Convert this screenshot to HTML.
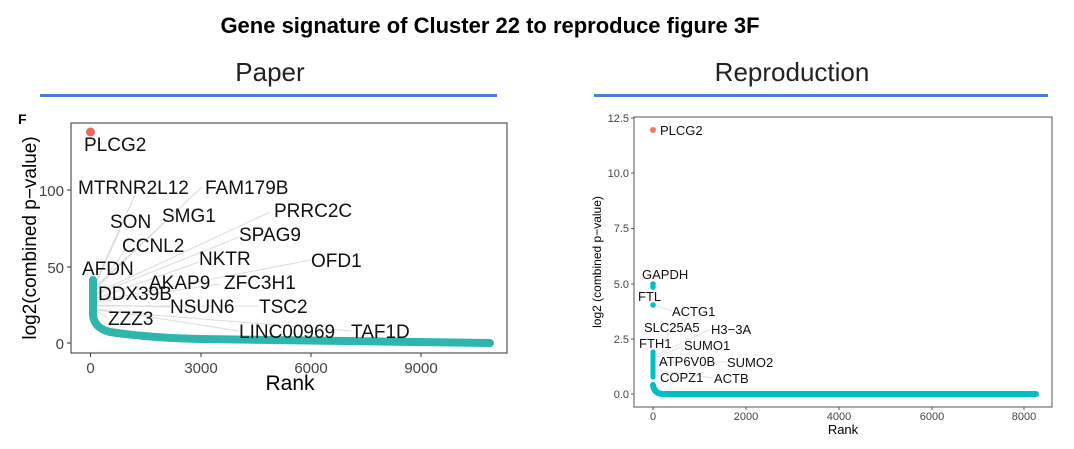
<!DOCTYPE html>
<html><head><meta charset="utf-8"><style>
html,body{margin:0;padding:0;background:#fff;width:1074px;height:449px;overflow:hidden}
svg{display:block;font-family:"Liberation Sans",Arial,sans-serif}
</style></head><body>
<svg width="1074" height="449" viewBox="0 0 1074 449">
<text x="490" y="33" font-size="22" font-weight="bold" text-anchor="middle" fill="#000">Gene signature of Cluster 22 to reproduce figure 3F</text>
<text x="270" y="81" font-size="26" text-anchor="middle" fill="#222">Paper</text>
<text x="792" y="81" font-size="26" text-anchor="middle" fill="#222">Reproduction</text>
<rect x="40" y="94" width="457" height="3" fill="#4a7fd4"/>
<rect x="594" y="94" width="454" height="3" fill="#4a7fd4"/>

<!-- LEFT PLOT -->
<text x="18" y="124" font-size="14" font-weight="bold">F</text>
<rect x="71" y="123" width="436" height="230" fill="#fff" stroke="#333" stroke-width="1"/>
<g stroke="#333"><line x1="67" y1="190" x2="71" y2="190"/><line x1="67" y1="267" x2="71" y2="267"/><line x1="67" y1="343" x2="71" y2="343"/>
<line x1="90.5" y1="353" x2="90.5" y2="357"/><line x1="201" y1="353" x2="201" y2="357"/><line x1="311" y1="353" x2="311" y2="357"/><line x1="421" y1="353" x2="421" y2="357"/></g>
<g font-size="15" fill="#444" text-anchor="end"><text x="64" y="196">100</text><text x="64" y="273">50</text><text x="64" y="349">0</text></g>
<g font-size="15" fill="#444" text-anchor="middle"><text x="90.5" y="373">0</text><text x="201" y="373">3000</text><text x="311" y="373">6000</text><text x="421" y="373">9000</text></g>
<text x="290" y="390" font-size="21" text-anchor="middle">Rank</text>
<text transform="translate(36,238) rotate(-90)" font-size="19" text-anchor="middle">log2(combined p−value)</text>
<g stroke="#dcdcd8" stroke-width="1" fill="none">
<line x1="92" y1="290" x2="135" y2="195"/><line x1="92" y1="290" x2="202" y2="187"/>
<line x1="92" y1="292" x2="120" y2="230"/><line x1="92" y1="292" x2="165" y2="222"/>
<line x1="92" y1="295" x2="270" y2="212"/><line x1="92" y1="296" x2="239" y2="237"/>
<line x1="92" y1="296" x2="125" y2="250"/><line x1="92" y1="300" x2="199" y2="262"/>
<line x1="92" y1="302" x2="311" y2="260"/><line x1="92" y1="303" x2="220" y2="284"/>
<line x1="92" y1="305" x2="170" y2="307"/><line x1="92" y1="306" x2="259" y2="306"/>
<line x1="92" y1="308" x2="108" y2="318"/><line x1="92" y1="308" x2="239" y2="331"/>
<line x1="92" y1="310" x2="351" y2="331"/>
</g>
<path d="M93 280 L93 315 Q94 328 110 332 Q150 338 200 339 L490 343" stroke="#2fb6ac" stroke-width="8" fill="none" stroke-linecap="round" stroke-linejoin="round"/>
<circle cx="90.5" cy="132" r="4.5" fill="#e8685e"/>
<g font-size="19" fill="#111">
<text x="84" y="151">PLCG2</text>
<text x="78" y="194">MTRNR2L12</text><text x="205" y="194">FAM179B</text>
<text x="110" y="228">SON</text><text x="162" y="222">SMG1</text><text x="274" y="217">PRRC2C</text>
<text x="239" y="241">SPAG9</text><text x="122" y="252">CCNL2</text><text x="199" y="265">NKTR</text>
<text x="311" y="267">OFD1</text><text x="82" y="275">AFDN</text><text x="149" y="289">AKAP9</text>
<text x="224" y="289">ZFC3H1</text><text x="98" y="300">DDX39B</text><text x="170" y="313">NSUN6</text>
<text x="259" y="313">TSC2</text><text x="108" y="325">ZZZ3</text><text x="239" y="338">LINC00969</text>
<text x="351" y="338">TAF1D</text>
</g>

<!-- RIGHT PLOT -->
<rect x="634" y="117" width="418" height="290" fill="#fff" stroke="#555" stroke-width="1"/>
<g stroke="#555"><line x1="631" y1="118" x2="634" y2="118"/><line x1="631" y1="173" x2="634" y2="173"/><line x1="631" y1="228.5" x2="634" y2="228.5"/><line x1="631" y1="284" x2="634" y2="284"/><line x1="631" y1="339" x2="634" y2="339"/><line x1="631" y1="394" x2="634" y2="394"/>
<line x1="653" y1="407" x2="653" y2="410"/><line x1="746" y1="407" x2="746" y2="410"/><line x1="839" y1="407" x2="839" y2="410"/><line x1="932" y1="407" x2="932" y2="410"/><line x1="1024" y1="407" x2="1024" y2="410"/></g>
<g font-size="11" fill="#444" text-anchor="end"><text x="629" y="122">12.5</text><text x="629" y="177">10.0</text><text x="629" y="232">7.5</text><text x="629" y="288">5.0</text><text x="629" y="343">2.5</text><text x="629" y="398">0.0</text></g>
<g font-size="11" fill="#444" text-anchor="middle"><text x="653" y="420">0</text><text x="746" y="420">2000</text><text x="839" y="420">4000</text><text x="932" y="420">6000</text><text x="1024" y="420">8000</text></g>
<text x="843" y="434" font-size="13" text-anchor="middle">Rank</text>
<text transform="translate(601,262) rotate(-90)" font-size="12" text-anchor="middle">log2 (combined p−value)</text>
<g stroke="#ddd" stroke-width="0.8">
<line x1="654" y1="305" x2="672" y2="311"/><line x1="654" y1="356" x2="711" y2="329"/><line x1="654" y1="358" x2="684" y2="346"/>
<line x1="654" y1="362" x2="730" y2="362"/><line x1="654" y1="370" x2="714" y2="378"/><line x1="654" y1="354" x2="672" y2="330"/>
</g>
<g fill="#00bfc4"><circle cx="653" cy="284" r="2.8"/><circle cx="653" cy="287" r="2.8"/><circle cx="653" cy="305" r="2.8"/></g>
<path d="M653 352 L653 377" stroke="#00bfc4" stroke-width="5" stroke-linecap="round"/>
<path d="M653 385 Q654 393 662 394 L1036 394" stroke="#00bfc4" stroke-width="6" fill="none" stroke-linecap="round"/>
<circle cx="653" cy="130" r="3" fill="#f8766d"/>
<g font-size="13" fill="#111">
<text x="660" y="135">PLCG2</text><text x="642" y="279">GAPDH</text><text x="638" y="301">FTL</text>
<text x="672" y="316">ACTG1</text><text x="644" y="332">SLC25A5</text><text x="711" y="334">H3−3A</text>
<text x="639" y="348">FTH1</text><text x="684" y="350">SUMO1</text><text x="659" y="366">ATP6V0B</text>
<text x="727" y="367">SUMO2</text><text x="660" y="382">COPZ1</text><text x="714" y="383">ACTB</text>
</g>
</svg>
</body></html>
